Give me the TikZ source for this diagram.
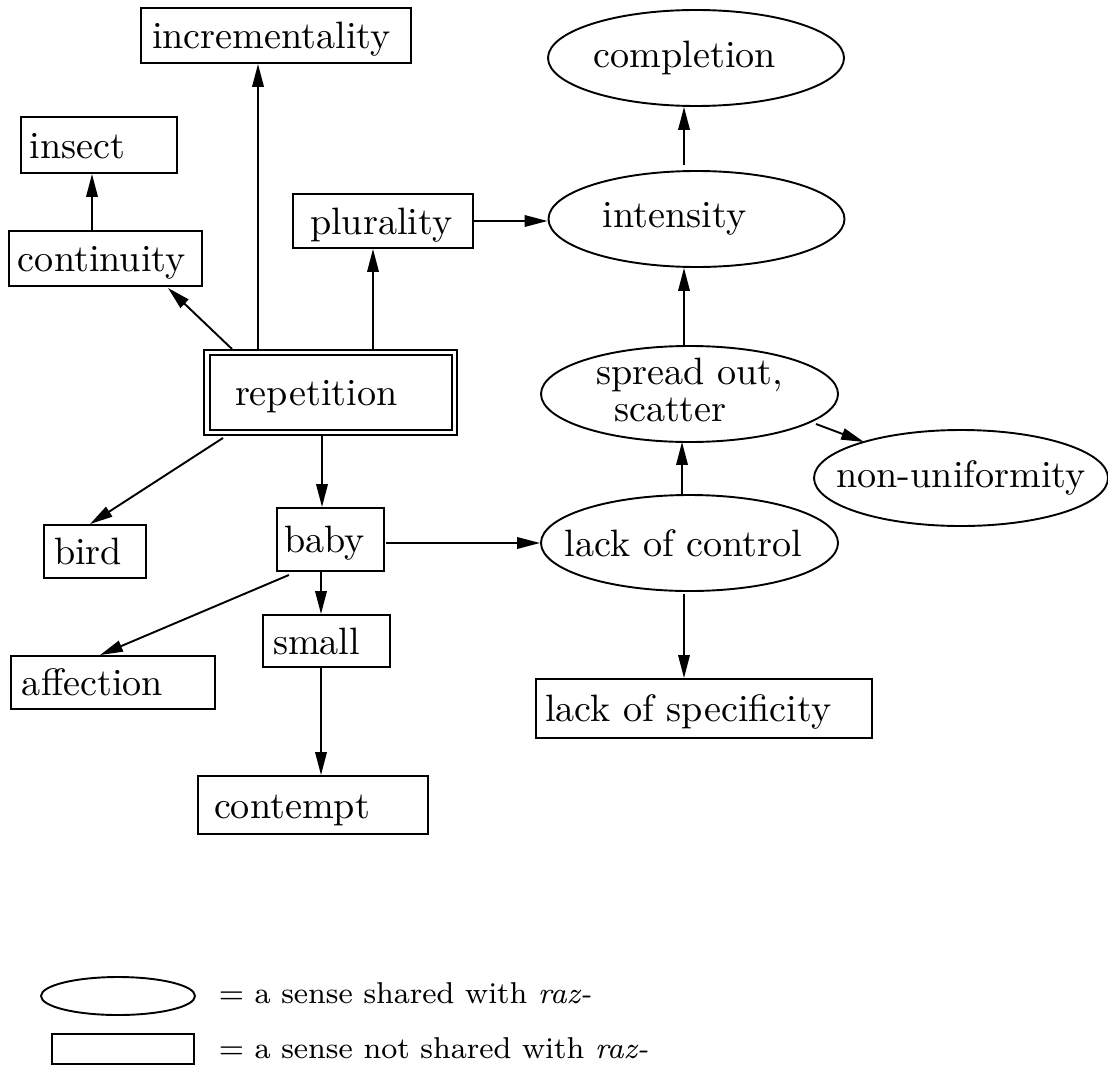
\documentclass[tikz,border=0pt]{standalone}
\usetikzlibrary{arrows.meta,shapes.geometric,calc}
\newdimen\px \px=0.262pt
\newcommand\tsh[2]{\makebox[0pt]{\kern#1\px\kern#1\px #2}}
\newcommand\bx[3]{\makebox[#1\px][l]{\kern#2\px #3}}
\begin{document}
\begin{tikzpicture}[x=0.262pt,y=-0.262pt,
  tbox/.style={draw, line width=0.5pt, rectangle, inner sep=0pt, minimum height=#1*0.262pt, text height=7pt, text depth=0pt},
  ell/.style 2 args={draw, ellipse, line width=0.5pt, inner sep=0pt, minimum width=#1*0.262pt, minimum height=#2*0.262pt},
  arr/.style={-{Triangle[length=6pt,width=3pt]}, line width=0.5pt},
  legtext/.style={anchor=base west, inner sep=0pt, font=\fontsize{7.9}{9.5}\selectfont}]
\useasboundingbox (0,0) rectangle (1108,1065);

% rectangles
\node[tbox=55] (inc) at (276,35.5) {\bx{270}{11}{incrementality}};
\node[tbox=56] (ins) at (99,145) {\bx{156}{9}{insect}};
\node[tbox=55] (con) at (105.5,258.5) {\bx{193}{9}{continuity}};
\node[tbox=54] (plu) at (383,221) {\bx{180}{17}{plurality}};
\node[tbox=85] (rep) at (330.5,392.5) {\bx{253}{31}{repetition}};
\draw[line width=0.7pt] ($(rep.north west)+(7,6)$) rectangle ($(rep.south east)+(-6,-6)$);
\node[tbox=53] (bird) at (95,551.5) {\bx{102}{10}{bird}};
\node[tbox=63] (baby) at (330.5,539.5) {\bx{107}{7}{baby}};
\node[tbox=52] (small) at (326.5,641) {\bx{127}{10}{small}};
\node[tbox=53] (aff) at (113,682.5) {\bx{204}{11}{affection}};
\node[tbox=58] (cont) at (313,805) {\bx{230}{16}{contempt}};
\node[tbox=59] (los) at (704,708.5) {\bx{336}{9}{lack of specificity}};

% ellipses
\node[ell={296}{96}] (comp) at (696,58) {\tsh{-11}{completion}};
\node[ell={296}{96}] (int) at (696.5,219) {\tsh{-22}{intensity}};
\node[ell={297}{96}, inner sep=-8pt] (spr) at (689.5,394) {\makebox[0pt]{\raisebox{-1pt}{\begin{tabular}{@{}l@{}}spread out,\\[-2.3pt]\hspace*{18\px}scatter\end{tabular}}}};
\node[ell={294}{96}] (non) at (961,478) {\tsh{0}{non-uniformity}};
\node[ell={297}{96}] (loc) at (689.5,543) {\tsh{-6}{lack of control}};

% connector end points
\coordinate (a1) at ($(rep.north)+(-72.5,0)$);
\coordinate (a2) at ($(rep.north)+(42.5,0)$);
\coordinate (a3) at ($(rep.north)+(-98.5,0)$);
\coordinate (b3) at ($(con.south)+(62.5,1)$);
\coordinate (a4) at ($(con.north)+(-13.5,0)$);
\coordinate (a5) at ($(rep.south)+(-107.5,2)$);
\coordinate (b5) at ($(bird.north)+(-5,0)$);
\coordinate (a6) at ($(rep.south)+(-8.5,0)$);
\coordinate (a8) at ($(int.north)+(-12.5,-5)$);
\coordinate (a9) at ($(spr.center)+(-5.5,-49)$);
\coordinate (a10) at ($(spr.center)+(126.5,30)$);
\coordinate (b10) at ($(non.center)+(-97,-36)$);
\coordinate (a11) at ($(loc.north)+(-7.5,0)$);
\coordinate (b11) at ($(spr.center)+(-7.5,48)$);
\coordinate (a12) at ($(baby.east)+(1,3.5)$);
\coordinate (a13) at ($(baby.south)+(-9.5,0)$);
\coordinate (a14) at ($(baby.south)+(-41.5,3)$);
\coordinate (b14) at ($(aff.north)+(-13,0)$);
\coordinate (a15) at ($(small.south)+(-5.5,0)$);
\coordinate (a16) at ($(loc.south)+(-5.5,2)$);

% connectors
\draw[arr] (a1) -- (a1 |- inc.south);
\draw[arr] (a2) -- (a2 |- plu.south);
\draw[arr] (a3) -- (b3);
\draw[arr] (a4) -- (a4 |- ins.south);
\draw[arr] (a5) -- (b5);
\draw[arr] (a6) -- (a6 |- baby.north);
\draw[arr] (plu.east) -- (plu.east -| int.west);
\draw[arr] (a8) -- (a8 |- comp.south);
\draw[arr] (a9) -- (a9 |- int.south);
\draw[arr] (a10) -- (b10);
\draw[arr] (a11) -- (b11);
\draw[arr] (a12) -- (a12 -| loc.west);
\draw[arr] (a13) -- (a13 |- small.north);
\draw[arr] (a14) -- (b14);
\draw[arr] (a15) -- (a15 |- cont.north);
\draw[arr] (a16) -- (a16 |- los.north);

% legend
\node[ell={154}{38}] (lege) at (118,996) {};
\node[draw, line width=0.5pt, rectangle, inner sep=0pt, minimum width=142*0.262pt, minimum height=30*0.262pt] (legr) at (123,1049) {};
\node[legtext] (lt1) at (218,1003) {$=$ a sense shared with \textit{raz-}};
\node[legtext] (lt2) at (218,1058) {$=$ a sense not shared with \textit{raz-}};
\end{tikzpicture}
\end{document}
